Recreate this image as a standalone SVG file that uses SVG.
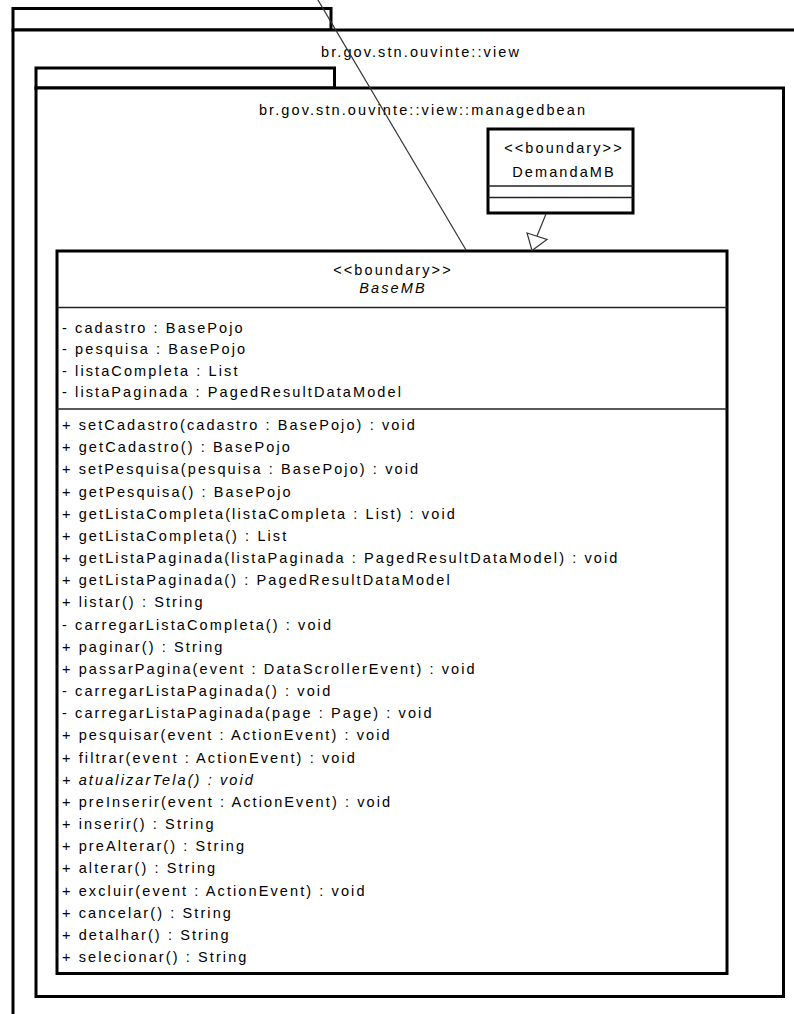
<svg xmlns="http://www.w3.org/2000/svg" width="794" height="1014" viewBox="0 0 794 1014">
<style>
.pk{fill:#fff;stroke:#000;stroke-width:3}
.box{fill:#fff;stroke:#000;stroke-width:3}
.sep{stroke:#222;stroke-width:1.5;fill:none}
text{font-family:"Liberation Sans",Arial,sans-serif;font-size:14.5px;letter-spacing:2.1px;fill:#000}
.c{text-anchor:middle}
.i{font-style:italic}
.conn{stroke:#333;stroke-width:1.2;fill:none}
.tri{fill:#fff;stroke:#333;stroke-width:1.2}
</style>
<rect width="794" height="1014" fill="#fff"/>
<g id="pkg-view">
<rect class="pk" x="13" y="8.5" width="318" height="21.5"/>
<rect class="pk" x="13" y="30" width="820" height="1000"/>
<text class="c" x="421" y="57">br.gov.stn.ouvinte::view</text>
</g>
<g id="pkg-managedbean">
<rect class="pk" x="36" y="68" width="298.5" height="20"/>
<rect class="pk" x="36" y="88" width="747.5" height="908.5"/>
<text class="c" x="423" y="115">br.gov.stn.ouvinte::view::managedbean</text>
</g>
<g id="DemandaMB">
<rect class="box" x="488" y="129" width="145" height="84"/>
<text class="c" x="564" y="153">&lt;&lt;boundary&gt;&gt;</text>
<text class="c" x="564" y="177">DemandaMB</text>
<line class="sep" x1="488" y1="186" x2="633" y2="186"/>
<line class="sep" x1="488" y1="197.5" x2="633" y2="197.5"/>
</g>
<g id="BaseMB">
<rect class="box" x="57" y="251" width="670" height="722.5"/>
<text class="c" x="393" y="275">&lt;&lt;boundary&gt;&gt;</text>
<text class="c i" x="393" y="293">BaseMB</text>
<line class="sep" x1="57" y1="307.5" x2="727" y2="307.5"/>
<text x="62" y="333">- cadastro : BasePojo</text>
<text x="62" y="354">- pesquisa : BasePojo</text>
<text x="62" y="375.5">- listaCompleta : List</text>
<text x="62" y="397">- listaPaginada : PagedResultDataModel</text>
<line class="sep" x1="57" y1="409" x2="727" y2="409"/>
<text x="62" y="430">+ setCadastro(cadastro : BasePojo) : void</text>
<text x="62" y="452.2">+ getCadastro() : BasePojo</text>
<text x="62" y="474.3">+ setPesquisa(pesquisa : BasePojo) : void</text>
<text x="62" y="496.5">+ getPesquisa() : BasePojo</text>
<text x="62" y="518.7">+ getListaCompleta(listaCompleta : List) : void</text>
<text x="62" y="540.9">+ getListaCompleta() : List</text>
<text x="62" y="563">+ getListaPaginada(listaPaginada : PagedResultDataModel) : void</text>
<text x="62" y="585.2">+ getListaPaginada() : PagedResultDataModel</text>
<text x="62" y="607.4">+ listar() : String</text>
<text x="62" y="629.5">- carregarListaCompleta() : void</text>
<text x="62" y="651.7">+ paginar() : String</text>
<text x="62" y="673.9">+ passarPagina(event : DataScrollerEvent) : void</text>
<text x="62" y="696">- carregarListaPaginada() : void</text>
<text x="62" y="718.2">- carregarListaPaginada(page : Page) : void</text>
<text x="62" y="740.4">+ pesquisar(event : ActionEvent) : void</text>
<text x="62" y="762.6">+ filtrar(event : ActionEvent) : void</text>
<text class="i" x="62" y="784.7">+ atualizarTela() : void</text>
<text x="62" y="806.9">+ preInserir(event : ActionEvent) : void</text>
<text x="62" y="829.1">+ inserir() : String</text>
<text x="62" y="851.2">+ preAlterar() : String</text>
<text x="62" y="873.4">+ alterar() : String</text>
<text x="62" y="895.6">+ excluir(event : ActionEvent) : void</text>
<text x="62" y="917.7">+ cancelar() : String</text>
<text x="62" y="939.9">+ detalhar() : String</text>
<text x="62" y="962.1">+ selecionar() : String</text>
</g>
<g id="connectors">
<line class="conn" x1="316.2" y1="-3" x2="466" y2="250"/>
<line class="conn" x1="546" y1="214" x2="537" y2="236"/>
<polygon class="tri" points="527,233 547,239.5 532,250.5"/>
</g>
</svg>
